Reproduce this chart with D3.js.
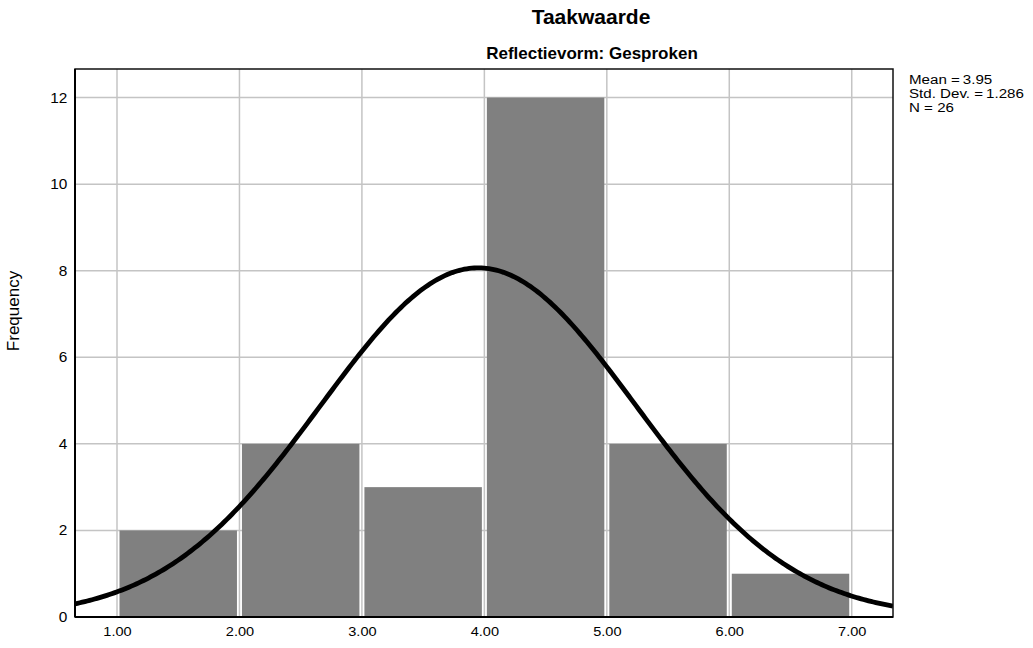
<!DOCTYPE html>
<html>
<head>
<meta charset="utf-8">
<script src="https://cdn.jsdelivr.net/npm/d3@7"></script>
<style>
  body { margin: 0; background: #fff; }
  text { font-family: Helvetica, Arial, "Liberation Sans", sans-serif; fill: #000; }
</style>
</head>
<body>
<div id="chart"></div>
<script>
// histogram bins (lower edges) and counts
const binStarts = [1, 2, 3, 4, 5, 6];
const binWidth = 1;
const counts = [2, 4, 3, 12, 4, 1];
const xTicks = [1, 2, 3, 4, 5, 6, 7];
const yTicks = [0, 2, 4, 6, 8, 10, 12];
// summary shown in the legend, also used for the normal curve
const mean = 3.95;
const stdDev = 1.286;
const n = 26;

const width = 1033;
const height = 648;
const margin = { top: 69, right: 140, bottom: 31, left: 75 };
const w = width - margin.left - margin.right;
const h = height - margin.top - margin.bottom;

const svg = d3.select("#chart")
  .append("svg")
  .attr("width", width)
  .attr("height", height);

const g = svg.append("g")
  .attr("transform", `translate(${margin.left},${margin.top})`);

const x = d3.scaleLinear().domain([0.657, 7.337]).range([0, w]);
const y = d3.scaleLinear().domain([0, 12.66]).range([h, 0]);

// grid
g.append("g")
  .selectAll("line")
  .data(xTicks)
  .enter()
  .append("line")
  .attr("x1", d => x(d)).attr("x2", d => x(d))
  .attr("y1", 0).attr("y2", h)
  .attr("stroke", "#c4c4c4")
  .attr("stroke-width", 1.5);

g.append("g")
  .selectAll("line")
  .data(yTicks)
  .enter()
  .append("line")
  .attr("x1", 0).attr("x2", w)
  .attr("y1", d => y(d)).attr("y2", d => y(d))
  .attr("stroke", "#c4c4c4")
  .attr("stroke-width", 1.5);

// bars
g.selectAll(".bar")
  .data(binStarts)
  .enter()
  .append("rect")
  .attr("class", "bar")
  .attr("x", d => x(d) + 2.5)
  .attr("width", d => x(d + binWidth) - x(d) - 5)
  .attr("y", (d, i) => y(counts[i]))
  .attr("height", (d, i) => h - y(counts[i]))
  .attr("fill", "#808080");

// normal curve
g.append("clipPath").attr("id", "clip")
  .append("rect").attr("width", w).attr("height", h);

const [x0, x1] = x.domain();
const curveX = d3.range(x0, x1 + 0.01, 0.02);
const dens = v => n * binWidth / (stdDev * Math.sqrt(2 * Math.PI)) *
  Math.exp(-0.5 * Math.pow((v - mean) / stdDev, 2));

g.append("path")
  .datum(curveX)
  .attr("clip-path", "url(#clip)")
  .attr("fill", "none")
  .attr("stroke", "#000")
  .attr("stroke-width", 4.8)
  .attr("d", d3.line().x(d => x(d)).y(d => y(dens(d))));

// frame
g.append("rect")
  .attr("width", w).attr("height", h)
  .attr("fill", "none")
  .attr("stroke", "#111")
  .attr("stroke-width", 1.5);
g.append("line").attr("x1", 0).attr("x2", 0).attr("y1", 0).attr("y2", h)
  .attr("stroke", "#000").attr("stroke-width", 2);
g.append("line").attr("x1", 0).attr("x2", w).attr("y1", h).attr("y2", h)
  .attr("stroke", "#000").attr("stroke-width", 2);

// axes labels
const xAxis = g.append("g")
  .attr("transform", `translate(0,${h})`)
  .call(d3.axisBottom(x).tickValues(xTicks).tickFormat(d3.format(".2f")).tickSize(0).tickPadding(10));
xAxis.select(".domain").remove();
xAxis.selectAll(".tick text")
  .attr("font-size", 13)
  .attr("font-family", "Helvetica, Arial, 'Liberation Sans', sans-serif")
  .attr("fill", "#000")
  .attr("transform", "scale(1.12,1)");

const yAxis = g.append("g")
  .call(d3.axisLeft(y).tickValues(yTicks).tickFormat(d3.format("d")).tickSize(0).tickPadding(7));
yAxis.select(".domain").remove();
yAxis.selectAll(".tick text")
  .attr("font-size", 14)
  .attr("font-family", "Helvetica, Arial, 'Liberation Sans', sans-serif")
  .attr("fill", "#000")
  .attr("transform", "scale(1.1,1)");

svg.append("text")
  .attr("transform", "translate(19,311) rotate(-90)")
  .attr("text-anchor", "middle")
  .attr("font-size", 17)
  .text("Frequency");

// titles
svg.append("text")
  .attr("x", 591).attr("y", 24)
  .attr("text-anchor", "middle")
  .attr("font-size", 21)
  .attr("font-weight", "bold")
  .text("Taakwaarde");

svg.append("text")
  .attr("x", 592).attr("y", 59)
  .attr("text-anchor", "middle")
  .attr("font-size", 17)
  .attr("font-weight", "bold")
  .text("Reflectievorm: Gesproken");

// legend
const legendLines = [
  "Mean =\u20093.95",
  "Std. Dev. =\u20091.286",
  "N = " + n
];
svg.append("g")
  .attr("transform", "translate(909,84) scale(1.12,1)")
  .selectAll("text")
  .data(legendLines)
  .enter()
  .append("text")
  .attr("y", (d, i) => i * 14)
  .attr("font-size", 13.5)
  .text(d => d);
</script>
</body>
</html>
